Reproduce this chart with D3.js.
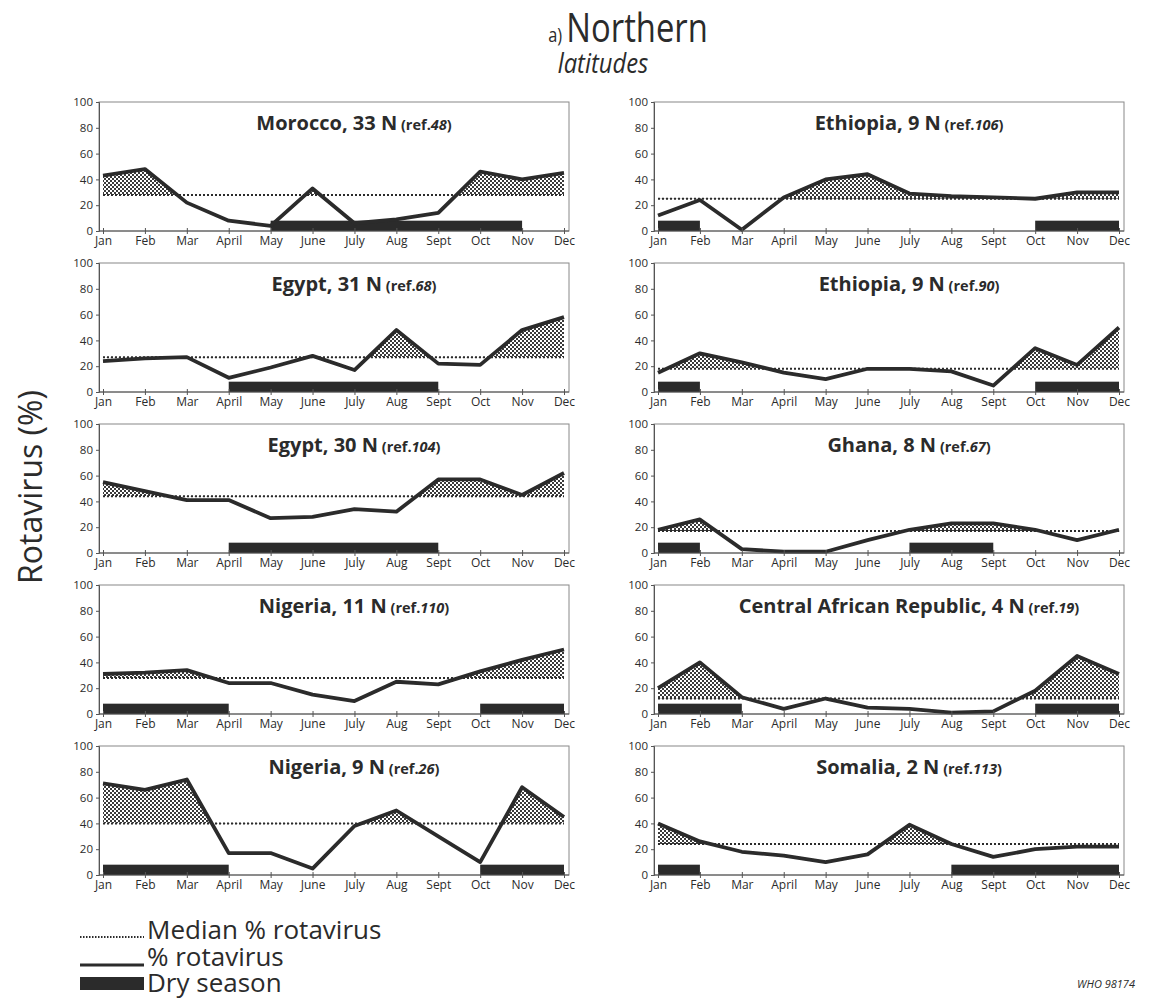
<!DOCTYPE html>
<html>
<head>
<meta charset="utf-8">
<script src="https://cdn.jsdelivr.net/npm/d3@7"></script>
<style>
  body { margin: 0; background: #fff; }
  text { font-family: "Open Sans", "Noto Sans", sans-serif; fill: #2b2b2b; }
</style>
</head>
<body>
<script>
// month labels and y ticks
const months = ["Jan", "Feb", "Mar", "April", "May", "June", "July", "Aug", "Sept", "Oct", "Nov", "Dec"];
const yTicks = [0, 20, 40, 60, 80, 100];

// panels, row by row (left, right)
const titles = ["Morocco, 33 N", "Ethiopia, 9 N", "Egypt, 31 N", "Ethiopia, 9 N", "Egypt, 30 N",
  "Ghana, 8 N", "Nigeria, 11 N", "Central African Republic, 4 N", "Nigeria, 9 N", "Somalia, 2 N"];
const refs = ["48", "106", "68", "90", "104", "67", "110", "19", "26", "113"];

// % rotavirus per month
const morocco33 = [43, 48, 22, 8, 4, 33, 6, 9, 14, 46, 40, 45];
const ethiopia106 = [12, 24, 1, 26, 40, 44, 29, 27, 26, 25, 30, 30];
const egypt31 = [24, 26, 27, 11, 19, 28, 17, 48, 22, 21, 48, 58];
const ethiopia90 = [15, 30, 23, 15, 10, 18, 18, 16, 5, 34, 21, 50];
const egypt30 = [55, 48, 41, 41, 27, 28, 34, 32, 57, 57, 45, 62];
const ghana8 = [18, 26, 3, 1, 1, 10, 18, 23, 23, 18, 10, 18];
const nigeria11 = [31, 32, 34, 24, 24, 15, 10, 25, 23, 33, 42, 50];
const car4 = [20, 40, 13, 4, 12, 5, 4, 1, 2, 18, 45, 31];
const nigeria9 = [71, 66, 74, 17, 17, 5, 38, 50, 30, 10, 68, 45];
const somalia2 = [40, 26, 18, 15, 10, 16, 39, 24, 14, 20, 22, 22];

const series = [morocco33, ethiopia106, egypt31, ethiopia90, egypt30, ghana8, nigeria11, car4, nigeria9, somalia2];

// median % rotavirus
const medians = [28, 25, 27, 18, 44, 17, 28, 12, 40, 24];

// dry season spans (month index from, to)
const drySeasons = [
  [[4, 10]],
  [[0, 1], [9, 11]],
  [[3, 8]],
  [[0, 1], [9, 11]],
  [[3, 8]],
  [[0, 1], [6, 8]],
  [[0, 3], [9, 11]],
  [[0, 2], [9, 11]],
  [[0, 3], [9, 11]],
  [[0, 1], [7, 11]]
];
const dryHeight = 8;

const width = 1149, height = 1000;
const ink = "#2b2b2b";

const svg = d3.select("body").append("svg")
  .attr("width", width)
  .attr("height", height);

// checkered hatch
const defs = svg.append("defs");
const pat = defs.append("pattern")
  .attr("id", "hatch")
  .attr("width", 4)
  .attr("height", 4)
  .attr("patternUnits", "userSpaceOnUse");
pat.append("rect").attr("width", 4).attr("height", 4).attr("fill", "#3a3a3a");
pat.append("rect").attr("width", 2).attr("height", 2).attr("fill", "#fff");
pat.append("rect").attr("x", 2).attr("y", 2).attr("width", 2).attr("height", 2).attr("fill", "#fff");

// title (condensed look)
const title = svg.append("text")
  .attr("transform", "translate(628,42) scale(0.82,1)")
  .attr("text-anchor", "middle");
title.append("tspan").style("font-size", "20px").text("a) ");
title.append("tspan").style("font-size", "40px").text("Northern");

svg.append("text")
  .attr("transform", "translate(603,73) scale(0.85,1)")
  .attr("text-anchor", "middle")
  .style("font-size", "28px")
  .style("font-style", "italic")
  .text("latitudes");

// y axis title
svg.append("text")
  .attr("transform", "translate(42,487) rotate(-90)")
  .attr("text-anchor", "middle")
  .style("font-size", "32px")
  .text("Rotavirus (%)");

const colX = [99, 654];
const plotW = 470, plotH = 129;

series.forEach((vals, i) => {
  const col = i % 2, row = Math.floor(i / 2);
  const x0 = colX[col];
  const top = 102 + row * 161;

  const x = d3.scaleLinear().domain([0, 11]).range([x0 + 4, x0 + plotW - 5]);
  const y = d3.scaleLinear().domain([0, 100]).range([top + plotH, top]);

  const g = svg.append("g");
  const med = medians[i];

  // frame
  g.append("rect")
    .attr("x", x0)
    .attr("y", top)
    .attr("width", plotW)
    .attr("height", plotH)
    .attr("fill", "none")
    .attr("stroke", "#888")
    .attr("stroke-width", 1);

  // hatched area above median
  const clipId = "clip" + i;
  defs.append("clipPath").attr("id", clipId)
    .append("rect")
    .attr("x", x0)
    .attr("y", top)
    .attr("width", plotW)
    .attr("height", y(med) - top);

  const area = d3.area()
    .x((d, j) => x(j))
    .y0(y(med))
    .y1(d => y(d));

  g.append("path")
    .datum(vals)
    .attr("clip-path", `url(#${clipId})`)
    .attr("fill", "url(#hatch)")
    .attr("d", area);

  // median
  g.append("line")
    .attr("x1", x(0))
    .attr("x2", x(11))
    .attr("y1", y(med))
    .attr("y2", y(med))
    .attr("stroke", ink)
    .attr("stroke-width", 2)
    .attr("stroke-dasharray", "2,2");

  // dry season bars
  g.selectAll(".dry")
    .data(drySeasons[i])
    .join("rect")
    .attr("x", d => x(d[0]))
    .attr("width", d => x(d[1]) - x(d[0]))
    .attr("y", y(dryHeight))
    .attr("height", y(0) - y(dryHeight))
    .attr("fill", ink);

  // % rotavirus line
  const line = d3.line()
    .x((d, j) => x(j))
    .y(d => y(d));

  g.append("path")
    .datum(vals)
    .attr("fill", "none")
    .attr("stroke", ink)
    .attr("stroke-width", 3.8)
    .attr("stroke-linejoin", "round")
    .attr("d", line);

  // axes
  const yAxis = g.append("g")
    .attr("transform", `translate(${x0},0)`)
    .call(d3.axisLeft(y).tickValues(yTicks).tickSize(3).tickPadding(3));
  yAxis.select(".domain").attr("stroke", "#555");
  yAxis.selectAll("line").attr("stroke", "#555");
  yAxis.selectAll("text").style("font-size", "11.5px").attr("fill", ink);

  const xAxis = g.append("g")
    .attr("transform", `translate(0,${top + plotH})`)
    .call(d3.axisBottom(x).tickValues(d3.range(12)).tickFormat(j => months[j]).tickSize(3).tickPadding(2));
  xAxis.select(".domain").remove();
  xAxis.selectAll("line").attr("stroke", "#555").attr("y1", -3);
  xAxis.selectAll("text").style("font-size", "12px").attr("fill", ink);
  g.append("line")
    .attr("x1", x0).attr("x2", x0 + plotW)
    .attr("y1", top + plotH).attr("y2", top + plotH)
    .attr("stroke", "#555");

  // panel title
  const t = g.append("text")
    .attr("x", x0 + plotW / 2 + 20)
    .attr("y", top + 28)
    .attr("text-anchor", "middle")
    .style("font-weight", "bold");
  t.append("tspan").style("font-size", "20px").text(titles[i]);
  t.append("tspan").style("font-size", "14.5px").text(" (ref.");
  t.append("tspan").style("font-size", "14.5px").style("font-style", "italic").text(refs[i]);
  t.append("tspan").style("font-size", "14.5px").text(")");
});

// legend
const legX = 80, legW = 64;
const leg = svg.append("g");
leg.append("line")
  .attr("x1", legX).attr("x2", legX + legW)
  .attr("y1", 937).attr("y2", 937)
  .attr("stroke", ink).attr("stroke-width", 2).attr("stroke-dasharray", "1.5,1.5");
leg.append("line")
  .attr("x1", legX).attr("x2", legX + legW)
  .attr("y1", 965).attr("y2", 965)
  .attr("stroke", ink).attr("stroke-width", 3);
leg.append("rect")
  .attr("x", legX).attr("y", 977)
  .attr("width", legW).attr("height", 13)
  .attr("fill", ink);

const legLabels = ["Median % rotavirus", "% rotavirus", "Dry season"];
leg.selectAll(".lab")
  .data(legLabels)
  .join("text")
  .attr("x", legX + legW + 3)
  .attr("y", (d, j) => 939 + j * 26.5)
  .style("font-size", "26px")
  .text(d => d);

svg.append("text")
  .attr("x", 1135)
  .attr("y", 988)
  .attr("text-anchor", "end")
  .style("font-size", "11px")
  .style("font-style", "italic")
  .text("WHO 98174");
</script>
</body>
</html>
